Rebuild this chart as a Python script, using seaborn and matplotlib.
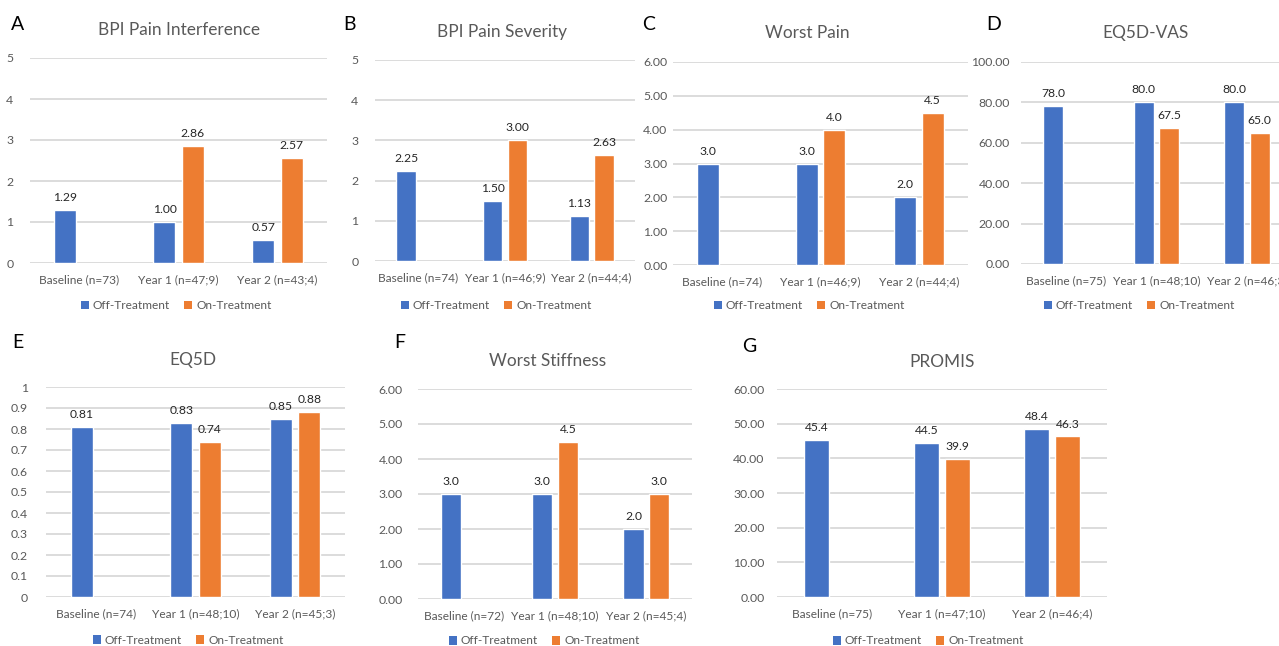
import numpy as np
import pandas as pd
import matplotlib
matplotlib.use("Agg")
import matplotlib.pyplot as plt
import seaborn as sns
from matplotlib.patches import Patch

sns.set_theme(style="white")
plt.rcParams['font.family'] = ['Lato', 'DejaVu Sans']

series_names = ["Off-Treatment", "On-Treatment"]
series_colors = ["#4472C4", "#ED7D31"]

# ---------------- data ----------------
a_title = "BPI Pain Interference"
a_cats = ["Baseline (n=73)", "Year 1 (n=47;9)", "Year 2 (n=43;4)"]
a_off = [1.29, 1.00, 0.57]
a_on = [None, 2.86, 2.57]
a_ticks = [0, 1, 2, 3, 4, 5]
a_ticklabels = ["0", "1", "2", "3", "4", "5"]

b_title = "BPI Pain Severity"
b_cats = ["Baseline (n=74)", "Year 1 (n=46;9)", "Year 2 (n=44;4)"]
b_off = [2.25, 1.50, 1.13]
b_on = [None, 3.00, 2.63]
b_ticks = [0, 1, 2, 3, 4, 5]
b_ticklabels = ["0", "1", "2", "3", "4", "5"]

c_title = "Worst Pain"
c_cats = ["Baseline (n=74)", "Year 1 (n=46;9)", "Year 2 (n=44;4)"]
c_off = [3.0, 3.0, 2.0]
c_on = [None, 4.0, 4.5]
c_ticks = [0, 1, 2, 3, 4, 5, 6]
c_ticklabels = ["0.00", "1.00", "2.00", "3.00", "4.00", "5.00", "6.00"]

d_title = "EQ5D-VAS"
d_cats = ["Baseline (n=75)", "Year 1 (n=48;10)", "Year 2 (n=46;3)"]
d_off = [78.0, 80.0, 80.0]
d_on = [None, 67.5, 65.0]
d_ticks = [0, 20, 40, 60, 80, 100]
d_ticklabels = ["0.00", "20.00", "40.00", "60.00", "80.00", "100.00"]

e_title = "EQ5D"
e_cats = ["Baseline (n=74)", "Year 1 (n=48;10)", "Year 2 (n=45;3)"]
e_off = [0.81, 0.83, 0.85]
e_on = [None, 0.74, 0.88]
e_ticks = [0, 0.1, 0.2, 0.3, 0.4, 0.5, 0.6, 0.7, 0.8, 0.9, 1.0]
e_ticklabels = ["0", "0.1", "0.2", "0.3", "0.4", "0.5", "0.6", "0.7", "0.8", "0.9", "1"]

f_title = "Worst Stiffness"
f_cats = ["Baseline (n=72)", "Year 1 (n=48;10)", "Year 2 (n=45;4)"]
f_off = [3.0, 3.0, 2.0]
f_on = [None, 4.5, 3.0]
f_ticks = [0, 1, 2, 3, 4, 5, 6]
f_ticklabels = ["0.00", "1.00", "2.00", "3.00", "4.00", "5.00", "6.00"]

g_title = "PROMIS"
g_cats = ["Baseline (n=75)", "Year 1 (n=47;10)", "Year 2 (n=46;4)"]
g_off = [45.4, 44.5, 48.4]
g_on = [None, 39.9, 46.3]
g_ticks = [0, 10, 20, 30, 40, 50, 60]
g_ticklabels = ["0.00", "10.00", "20.00", "30.00", "40.00", "50.00", "60.00"]

# ---------------- layout ----------------
W, H = 1279, 646
fig = plt.figure(figsize=(W / 100, H / 100), dpi=100)
fig.patch.set_facecolor("white")

GRAY = "#595959"


def rect(x0, x1, ytop, ybot):
    return [x0 / W, (H - ybot) / H, (x1 - x0) / W, (ybot - ytop) / H]


def panel(box, letter, letter_xy, title, title_xy, legend_xy,
          cats, off, on, ticks, ticklabels, fmt, ypad):
    ax = fig.add_axes(rect(*box))
    rows = []
    for c, v in zip(cats, off):
        if v is not None:
            rows.append((c, series_names[0], v))
    for c, v in zip(cats, on):
        if v is not None:
            rows.append((c, series_names[1], v))
    df = pd.DataFrame(rows, columns=["cat", "series", "val"])
    sns.barplot(data=df, x="cat", y="val", hue="series", order=cats,
                hue_order=series_names, palette=series_colors, saturation=1,
                width=0.566, gap=0.215, errorbar=None, legend=False, ax=ax)
    for cont in ax.containers:
        ax.bar_label(cont, fmt=fmt, padding=5, fontsize=8.7, color="#262626")
    ax.set_xlim(-0.5, 2.5)
    ax.set_ylim(ticks[0], ticks[-1])
    ax.set_yticks(ticks)
    ax.set_yticklabels(ticklabels)
    ax.set_xlabel("")
    ax.set_ylabel("")
    for s in ax.spines.values():
        s.set_visible(False)
    ax.yaxis.grid(True, color="#D9D9D9", linewidth=1.3)
    ax.xaxis.grid(False)
    ax.set_axisbelow(True)
    ax.tick_params(axis="y", length=0, pad=ypad, labelsize=8.8, labelcolor=GRAY)
    ax.tick_params(axis="x", length=0, pad=8, labelsize=8.6, labelcolor=GRAY)
    fig.text(letter_xy[0] / W, 1 - letter_xy[1] / H, letter, fontsize=14,
             color="black", ha="left", va="center")
    fig.text(title_xy[0] / W, 1 - title_xy[1] / H, title, fontsize=12.4,
             color=GRAY, ha="center", va="center")
    handles = [Patch(facecolor=c, edgecolor="none", label=n)
               for c, n in zip(series_colors, series_names)]
    fig.legend(handles=handles, loc="center", ncol=2, frameon=False,
               bbox_to_anchor=(legend_xy[0] / W, 1 - legend_xy[1] / H),
               fontsize=8.6, labelcolor=GRAY, handlelength=0.7,
               handleheight=0.7, handletextpad=0.3, columnspacing=1.2,
               borderaxespad=0, borderpad=0)
    return ax


panel((30, 327, 58, 263), "A", (11, 25), a_title, (179, 30), (176, 306),
      a_cats, a_off, a_on, a_ticks, a_ticklabels, "{:.2f}", 12)
panel((375, 635, 60, 261), "B", (343, 24), b_title, (502, 32), (496, 306),
      b_cats, b_off, b_on, b_ticks, b_ticklabels, "{:.2f}", 12)
panel((673, 968, 62, 265), "C", (642, 24), c_title, (807, 33), (809, 306),
      c_cats, c_off, c_on, c_ticks, c_ticklabels, "{:.1f}", 4)
panel((1021, 1292, 62, 264), "D", (986, 25), d_title, (1146, 33), (1139, 306),
      d_cats, d_off, d_on, d_ticks, d_ticklabels, "{:.1f}", 8)
panel((46, 345, 387, 597), "E", (12, 342), e_title, (193, 360), (188, 640),
      e_cats, e_off, e_on, e_ticks, e_ticklabels, "{:.2f}", 13)
panel((418, 692, 389, 599), "F", (394, 342), f_title, (548, 361), (544, 641),
      f_cats, f_off, f_on, f_ticks, f_ticklabels, "{:.1f}", 11)
panel((777, 1107, 389, 597), "G", (742, 346), g_title, (942, 362), (928, 641),
      g_cats, g_off, g_on, g_ticks, g_ticklabels, "{:.1f}", 9)

fig.savefig("out.png", dpi=100, facecolor="white")
